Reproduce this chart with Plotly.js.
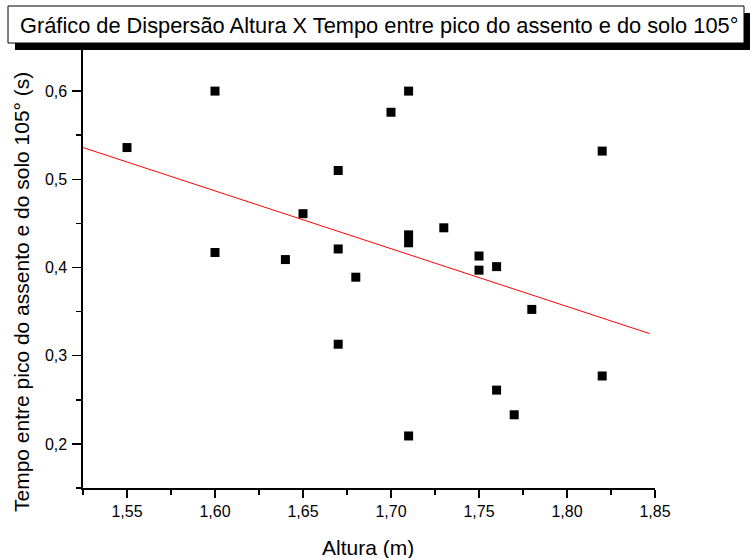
<!DOCTYPE html>
<html><head><meta charset="utf-8">
<script src="https://cdn.plot.ly/plotly-3.0.1.min.js"></script>
<style>html,body{margin:0;padding:0;background:#fff}</style>
</head><body><div id="chart" style="width:750px;height:558px"></div>
<script>
const altura = [1.55, 1.60, 1.60, 1.64, 1.65, 1.67, 1.67, 1.67, 1.68, 1.70, 1.71, 1.71, 1.71, 1.71, 1.73, 1.75, 1.75, 1.76, 1.76, 1.77, 1.78, 1.82, 1.82];
const tempo  = [0.536, 0.600, 0.417, 0.409, 0.461, 0.510, 0.421, 0.313, 0.389, 0.576, 0.600, 0.437, 0.428, 0.209, 0.445, 0.413, 0.397, 0.401, 0.261, 0.233, 0.3525, 0.532, 0.277];
const fitX = [1.525, 1.847];
const fitY = [0.536, 0.325];
const chartTitle = "Gráfico de Dispersão Altura X Tempo entre pico do assento e do solo 105°";
const xTitle = "Altura (m)";
const yTitle = "Tempo entre pico do assento e do solo 105° (s)";

const W = 750, H = 558;
const M = {l: 83, r: 95, t: 47, b: 70};
const PW = W - M.l - M.r, PH = H - M.t - M.b;
const xp = px => (px - M.l) / PW;
const yp = py => (H - M.b - py) / PH;
const FONT = "Arial, 'Liberation Sans', sans-serif";

const traces = [
  {x: altura, y: tempo, type: 'scatter', mode: 'markers',
   marker: {symbol: 'square', size: 9, color: '#000'}, hoverinfo: 'x+y'},
  {x: fitX, y: fitY, type: 'scatter', mode: 'lines',
   line: {color: '#ff0000', width: 1}}
];

const axisCommon = {
  showgrid: false, zeroline: false, showline: true, linecolor: '#000', linewidth: 1.6,
  ticks: 'outside', tickcolor: '#000', tickwidth: 1.5,
  tickfont: {family: FONT, size: 16, color: '#000'}
};

const layout = {
  width: W, height: H, margin: M, showlegend: false,
  paper_bgcolor: '#fff', plot_bgcolor: '#fff',
  separators: ',.',
  font: {family: FONT, color: '#000'},
  xaxis: Object.assign({}, axisCommon, {
    range: [1.525, 1.85], tick0: 1.55, dtick: 0.05, tickformat: '.2f', ticklen: 8,
    minor: {dtick: 0.025, tick0: 1.525, ticks: 'outside', ticklen: 5, tickcolor: '#000', tickwidth: 1.5}
  }),
  yaxis: Object.assign({}, axisCommon, {
    range: [0.15, 0.65], tick0: 0.2, dtick: 0.1, tickformat: '.1f', ticklen: 9,
    ticklabelstandoff: 2,
    minor: {dtick: 0.05, tick0: 0.15, ticks: 'outside', ticklen: 5, tickcolor: '#000', tickwidth: 1.5}
  }),
  shapes: [
    {type: 'rect', xref: 'paper', yref: 'paper', layer: 'above',
     x0: xp(15), x1: xp(750), y0: yp(13), y1: yp(50),
     fillcolor: '#000', line: {width: 0}},
    {type: 'rect', xref: 'paper', yref: 'paper', layer: 'above',
     x0: xp(8), x1: xp(744), y0: yp(6), y1: yp(43),
     fillcolor: '#fff', line: {color: '#000', width: 1}}
  ],
  annotations: [
    {text: chartTitle, xref: 'paper', yref: 'paper', x: xp(379), y: yp(25),
     xanchor: 'center', yanchor: 'middle', showarrow: false,
     font: {family: FONT, size: 21.8, color: '#000'}},
    {text: xTitle, xref: 'paper', yref: 'paper', x: xp(368), y: yp(547),
     xanchor: 'center', yanchor: 'middle', showarrow: false,
     font: {family: FONT, size: 21, color: '#000'}},
    {text: yTitle, xref: 'paper', yref: 'paper', x: xp(21), y: yp(292),
     xanchor: 'center', yanchor: 'middle', showarrow: false, textangle: -90,
     font: {family: FONT, size: 21, color: '#000'}}
  ]
};

Plotly.newPlot('chart', traces, layout, {displayModeBar: false, staticPlot: true});
</script>
</body></html>
